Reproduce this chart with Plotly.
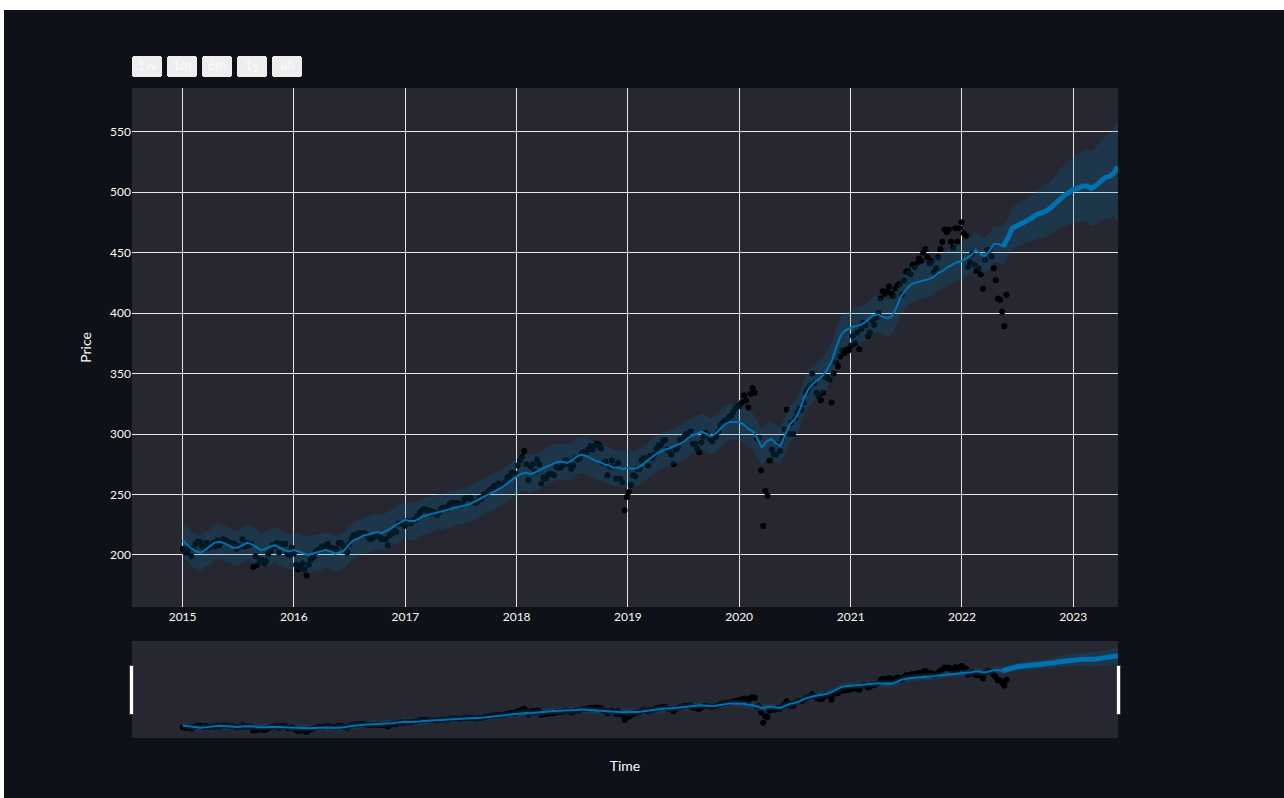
import pandas as pd
import plotly.graph_objects as go

# Weekly closing prices (Fridays), Jan 2015 - May 2022
close_2015 = [205, 202, 202, 206, 199, 206, 209, 211, 211, 207, 205, 210, 206,
              207, 210, 207, 212, 208, 211, 213, 212, 211, 209, 210, 209, 205,
              207, 207, 213, 207, 210, 208, 209, 190, 199, 192, 196, 196, 193,
              195, 201, 203, 208, 207, 210, 202, 209, 209, 209, 201, 200, 206]
close_2016 = [201, 192, 188, 190, 193, 188, 183, 192, 196, 198, 202, 204, 204,
              207, 205, 208, 209, 206, 206, 205, 205, 210, 210, 208, 206, 202,
              209, 213, 216, 217, 217, 218, 218, 218, 217, 214, 213, 214, 216,
              216, 215, 213, 213, 213, 208, 216, 218, 220, 219, 226, 226, 226, 224]
close_2017 = [228, 227, 226, 229, 229, 232, 235, 237, 238, 237, 237, 234, 236,
              235, 233, 235, 238, 239, 239, 238, 242, 243, 243, 243, 243, 241,
              242, 246, 247, 247, 247, 244, 243, 244, 247, 246, 250, 250, 252,
              254, 255, 257, 257, 259, 258, 258, 260, 264, 265, 268, 268, 267]
close_2018 = [274, 278, 281, 286, 275, 262, 273, 275, 269, 279, 275, 259, 264,
              263, 266, 267, 267, 266, 273, 272, 272, 274, 278, 278, 275, 271,
              274, 280, 279, 280, 284, 285, 285, 287, 290, 287, 290, 292, 291,
              288, 276, 277, 266, 273, 278, 273, 263, 276, 263, 260, 237, 248]
close_2019 = [252, 258, 266, 265, 271, 271, 278, 280, 280, 274, 282, 280, 283,
              288, 291, 291, 294, 295, 287, 286, 283, 275, 287, 289, 295, 294,
              298, 300, 298, 302, 292, 292, 288, 285, 293, 298, 301, 299, 296,
              294, 297, 298, 302, 307, 309, 311, 311, 314, 315, 318, 321, 323]
close_2020 = [323, 326, 332, 328, 322, 333, 338, 334, 296, 297, 270, 224, 253,
              249, 278, 287, 283, 283, 292, 286, 296, 304, 320, 300, 309, 300,
              313, 318, 321, 320, 326, 334, 337, 340, 350, 342, 334, 331, 328,
              334, 347, 347, 345, 326, 350, 359, 356, 364, 369, 367, 370, 369]
close_2021 = [373, 381, 375, 384, 370, 387, 392, 390, 381, 384, 394, 390, 396,
              400, 412, 418, 416, 418, 422, 416, 414, 420, 423, 424, 415, 427,
              434, 435, 432, 440, 438, 441, 445, 443, 450, 453, 446, 441, 443,
              434, 437, 446, 453, 459, 469, 467, 469, 459, 454, 470, 459, 470, 475]
close_2022 = [466, 464, 438, 442, 449, 440, 435, 437, 432, 420, 444, 452,
              452, 447, 437, 427, 412, 411, 401, 389, 415]

close = (close_2015 + close_2016 + close_2017 + close_2018 + close_2019
         + close_2020 + close_2021 + close_2022)
obs_dates = pd.date_range("2015-01-02", periods=len(close), freq="W-FRI")

# Model fit and one-year forecast, on the 1st and 15th of each month
yhat = [
    212, 209, 205, 203, 202, 204, 207, 210, 211, 210, 208, 206, 206, 208, 210, 209, 206, 204, 205, 207, 208, 206, 204, 203,
    204, 203, 201, 200, 201, 202, 203, 204, 203, 201, 202, 204, 209, 212, 214, 216, 217, 218, 219, 218, 220, 222, 225, 227,
    229, 228, 228, 230, 232, 233, 234, 235, 236, 237, 238, 239, 240, 241, 242, 244, 246, 248, 250, 252, 254, 256, 259, 262,
    265, 267, 268, 267, 268, 270, 272, 274, 276, 277, 277, 276, 278, 281, 283, 282, 280, 278, 277, 275, 274, 272, 272, 271,
    272, 271, 272, 274, 277, 280, 283, 285, 287, 288, 290, 291, 293, 296, 299, 300, 302, 300, 298, 300, 304, 308, 310, 310,
    310, 308, 304, 302, 296, 289, 294, 296, 292, 290, 300, 308, 312, 318, 330, 337, 342, 345, 348, 353, 361, 372, 382, 386,
    388, 389, 390, 392, 395, 398, 399, 397, 396, 397, 405, 414, 419, 423, 425, 426, 427, 428, 430, 433, 435, 438, 440, 442,
    443, 445, 448, 452, 449, 447, 451, 457, 457, 455, 462, 470, 472, 474, 476, 478, 481, 482, 484, 486, 490, 494, 497, 499,
    502, 503, 505, 505, 503, 505, 509, 512, 513, 516, 521,
]
yhat_lower = [
    198, 195, 190, 189, 187, 190, 192, 196, 197, 195, 194, 191, 192, 193, 196, 194, 192, 189, 191, 192, 194, 191, 190, 188,
    189, 188, 186, 185, 186, 187, 188, 190, 188, 186, 187, 189, 194, 197, 200, 201, 202, 203, 205, 203, 205, 207, 210, 212,
    214, 213, 212, 215, 217, 218, 219, 221, 221, 222, 223, 225, 225, 226, 227, 229, 231, 233, 236, 237, 239, 241, 244, 247,
    250, 252, 253, 251, 253, 255, 257, 259, 261, 262, 262, 261, 263, 266, 268, 267, 265, 263, 262, 260, 259, 257, 257, 256,
    257, 256, 257, 259, 262, 265, 268, 270, 272, 273, 275, 276, 278, 281, 284, 285, 287, 285, 283, 285, 289, 293, 295, 295,
    295, 293, 289, 287, 281, 274, 279, 281, 277, 275, 285, 293, 297, 303, 315, 322, 327, 330, 333, 338, 346, 357, 367, 371,
    373, 374, 375, 377, 380, 383, 384, 382, 381, 382, 390, 399, 404, 408, 410, 411, 412, 413, 415, 418, 420, 423, 425, 427,
    428, 431, 433, 437, 434, 432, 436, 442, 442, 440, 446, 453, 455, 456, 458, 459, 461, 462, 463, 464, 467, 470, 472, 473,
    475, 475, 476, 475, 472, 473, 476, 478, 478, 480, 476,
]
yhat_upper = [
    226, 224, 219, 218, 216, 219, 221, 225, 226, 224, 223, 220, 221, 222, 225, 224, 221, 218, 220, 221, 223, 221, 219, 217,
    219, 218, 216, 215, 216, 217, 218, 219, 218, 216, 217, 219, 224, 227, 229, 231, 232, 233, 234, 233, 235, 237, 240, 242,
    244, 243, 243, 245, 247, 248, 249, 250, 251, 252, 253, 254, 255, 256, 257, 259, 261, 263, 265, 267, 269, 271, 274, 277,
    280, 282, 283, 282, 283, 285, 287, 290, 291, 292, 292, 291, 293, 296, 298, 297, 295, 293, 292, 290, 289, 287, 287, 286,
    287, 286, 287, 289, 292, 295, 298, 300, 302, 303, 305, 306, 308, 311, 314, 315, 317, 315, 313, 315, 319, 323, 325, 325,
    325, 323, 319, 317, 311, 304, 309, 311, 307, 305, 315, 323, 327, 333, 345, 352, 357, 360, 363, 368, 376, 387, 397, 401,
    403, 404, 405, 407, 410, 413, 414, 412, 411, 412, 420, 429, 434, 438, 440, 441, 442, 443, 445, 448, 450, 453, 455, 457,
    458, 460, 463, 467, 464, 462, 466, 472, 472, 471, 478, 487, 490, 492, 495, 497, 501, 503, 506, 508, 513, 518, 522, 525,
    529, 531, 534, 535, 534, 537, 542, 546, 548, 553, 560,
]
forecast_end = "2023-05-27"
fc_dates = list(pd.date_range("2015-01-01", periods=len(yhat) - 1, freq="SMS")) + [pd.Timestamp(forecast_end)]
fc = pd.DataFrame({"ds": fc_dates, "yhat": yhat, "lo": yhat_lower, "hi": yhat_upper})

last_obs = obs_dates[-1]
hist = fc[fc["ds"] <= last_obs + pd.Timedelta(days=10)]
fut = fc[fc["ds"] >= last_obs - pd.Timedelta(days=20)]

x_range = ["2014-07-19", "2023-05-28"]
y_range = [157, 586]

BLUE = "#0072B2"
BAND = "rgba(0, 114, 178, 0.2)"
PAPER = "#0E1117"
PLOT_BG = "#262730"

fig = go.Figure()
fig.add_trace(go.Scatter(name="Actual", x=obs_dates, y=close, mode="markers",
                         marker=dict(color="black", size=6)))
fig.add_trace(go.Scatter(x=fc["ds"], y=fc["lo"], mode="lines",
                         line=dict(width=0), hoverinfo="skip", showlegend=False))
fig.add_trace(go.Scatter(x=fc["ds"], y=fc["hi"], mode="lines", fill="tonexty",
                         fillcolor=BAND, line=dict(width=0),
                         hoverinfo="skip", showlegend=False))
fig.add_trace(go.Scatter(name="Predicted", x=hist["ds"], y=hist["yhat"], mode="lines",
                         line=dict(color=BLUE, width=2)))
fig.add_trace(go.Scatter(name="Forecast", x=fut["ds"], y=fut["yhat"], mode="lines",
                         line=dict(color=BLUE, width=5)))

grid = "#e6e6e6"
fig.update_layout(
    width=1280,
    height=788,
    paper_bgcolor=PAPER,
    plot_bgcolor=PLOT_BG,
    font=dict(family="Lato, 'Noto Sans', sans-serif", color="#FAFAFA", size=12),
    margin=dict(l=128, r=166, t=78, b=191, autoexpand=False),
    showlegend=False,
    xaxis=dict(
        title=dict(text="Time", font=dict(size=14)),
        type="date",
        range=x_range,
        gridcolor=grid,
        zeroline=False,
        showline=False,
        ticklabelstandoff=1,
        rangeselector=dict(
            buttons=[
                dict(count=7, label="1w", step="day", stepmode="backward"),
                dict(count=1, label="1m", step="month", stepmode="backward"),
                dict(count=6, label="6m", step="month", stepmode="backward"),
                dict(count=1, label="1y", step="year", stepmode="backward"),
                dict(step="all"),
            ],
            bgcolor="#eeeeee",
            activecolor="#d4d4d4",
            font=dict(color="#FAFAFA", size=14),
        ),
        rangeslider=dict(visible=True, thickness=0.187, range=x_range,
                         bgcolor=PLOT_BG, bordercolor=PAPER, borderwidth=4,
                         yaxis=dict(rangemode="match")),
    ),
    yaxis=dict(
        title=dict(text="Price", font=dict(size=14)),
        range=y_range,
        gridcolor=grid,
        zeroline=False,
        showline=False,
    ),
)

page_style = (
    "document.body.style.margin='0';"
    "document.body.style.background='#ffffff';"
    "document.body.style.overflow='hidden';"
    "var d=document.getElementById('{plot_id}');"
    "d.style.marginTop='10px';d.style.marginLeft='4px';"
)
fig.write_html("out.html", post_script=page_style)
